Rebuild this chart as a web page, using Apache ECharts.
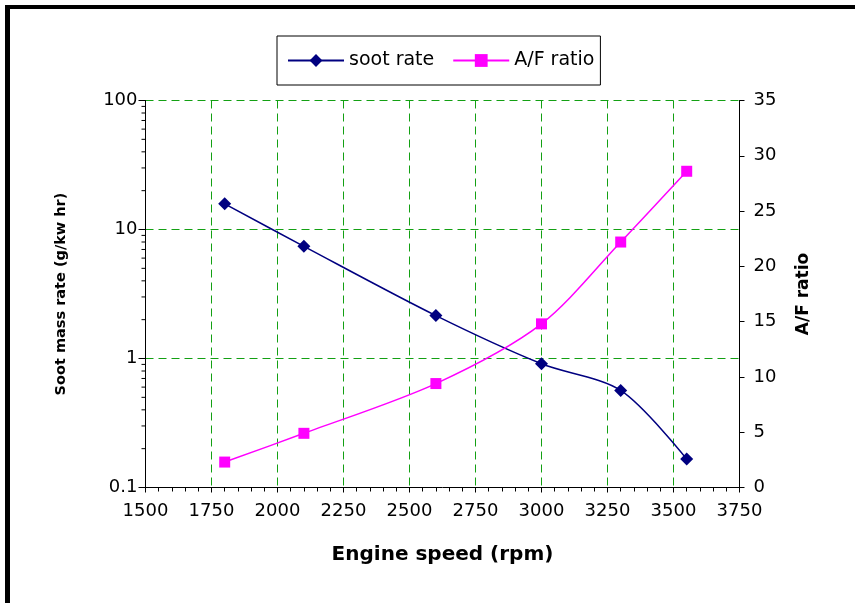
<!DOCTYPE html>
<html>
  <head>
    <meta charset="utf-8">
    <script src="https://cdn.jsdelivr.net/npm/echarts@6/dist/echarts.min.js"></script>
    <style>
      html, body { margin: 0; padding: 0; background: #fff; }
      #chart { width: 855px; height: 603px; }
      /* 原图左上角的粗黑边框 */
      #frame {
        position: absolute; left: 5px; top: 5px; width: 850px; height: 598px;
        border-left: 5px solid #000; border-top: 4px solid #000;
        box-sizing: border-box; pointer-events: none;
      }
    </style>
  </head>
  <body>
    <div id="chart"></div>
    <div id="frame"></div>
    <script>
      // 数据
      const speed = [1800, 2100, 2600, 3000, 3300, 3550];
      const sootRate = [15.8, 7.4, 2.15, 0.91, 0.565, 0.166];
      const afRatio = [2.3, 4.9, 9.4, 14.8, 22.2, 28.6];
      // 对数轴的次刻度 (2..9 每个十进位)
      const logMinor = [0.2, 0.3, 0.4, 0.5, 0.6, 0.7, 0.8, 0.9,
                        2, 3, 4, 5, 6, 7, 8, 9,
                        20, 30, 40, 50, 60, 70, 80, 90];

      const font = 'DejaVu Sans';
      const green = '#13a013';

      const chart = echarts.init(document.getElementById('chart'));
      chart.setOption({
        animation: false,
        textStyle: { fontFamily: font },
        grid: { left: 145.5, width: 594, top: 100.5, height: 387 },
        legend: {
          left: 277, top: 36,
          padding: [15, 6, 15, 10],
          borderColor: '#000', borderWidth: 1,
          itemWidth: 56, itemHeight: 16, itemGap: 18,
          textStyle: { fontFamily: font, fontSize: 19, color: '#000' },
          data: ['soot rate', 'A/F ratio']
        },
        xAxis: {
          type: 'value', min: 1500, max: 3750, interval: 250,
          name: 'Engine speed (rpm)', nameLocation: 'middle', nameGap: 57,
          nameTextStyle: { fontFamily: font, fontWeight: 'bold', fontSize: 20, color: '#000' },
          axisLine: { lineStyle: { color: '#000', width: 1 } },
          axisTick: { length: 5, lineStyle: { color: '#000' } },
          minorTick: { show: true, splitNumber: 5, length: 4, lineStyle: { color: '#000' } },
          axisLabel: { fontFamily: font, fontSize: 18, color: '#000', margin: 15, formatter: v => String(v) },
          splitLine: { show: true, lineStyle: { color: green, type: [8, 5], width: 1 } }
        },
        yAxis: [{
          type: 'log', logBase: 10, min: 0.1, max: 100,
          name: 'Soot mass rate (g/kw hr)', nameLocation: 'middle', nameGap: 77, nameRotate: 90,
          nameTextStyle: { fontFamily: font, fontWeight: 'bold', fontSize: 14.5, color: '#000' },
          axisLine: { show: true, lineStyle: { color: '#000', width: 1 } },
          axisTick: { show: true, length: 7, lineStyle: { color: '#000' } },
          axisLabel: { fontFamily: font, fontSize: 18, color: '#000', margin: 8 },
          splitLine: { show: true, lineStyle: { color: green, type: [8, 5], width: 1 } }
        }, {
          type: 'value', min: 0, max: 35, interval: 5, position: 'right',
          name: 'A/F ratio', nameLocation: 'middle', nameGap: 56, nameRotate: 90,
          nameTextStyle: { fontFamily: font, fontWeight: 'bold', fontSize: 17, color: '#000' },
          axisLine: { show: true, lineStyle: { color: '#000', width: 1 } },
          axisTick: { show: true, length: 5, lineStyle: { color: '#000' } },
          axisLabel: { fontFamily: font, fontSize: 18, color: '#000', margin: 14 },
          splitLine: { show: false }
        }],
        series: [{
          name: 'soot rate', type: 'line', yAxisIndex: 0,
          data: speed.map((s, i) => [s, sootRate[i]]),
          smooth: 0.3,
          symbol: 'diamond', symbolSize: [13, 13],
          itemStyle: { color: '#000080' },
          lineStyle: { color: '#000080', width: 1.5 }
        }, {
          name: 'A/F ratio', type: 'line', yAxisIndex: 1,
          data: speed.map((s, i) => [s, afRatio[i]]),
          smooth: 0.3,
          symbol: 'rect', symbolSize: 11,
          itemStyle: { color: '#ff00ff' },
          lineStyle: { color: '#ff00ff', width: 1.5 }
        }, {
          // 对数轴次刻度
          type: 'custom', yAxisIndex: 0, silent: true,
          data: logMinor.map(v => [1500, v]),
          renderItem: (params, api) => {
            const p = api.coord([api.value(0), api.value(1)]);
            return {
              type: 'line',
              shape: { x1: p[0] - 4, y1: p[1], x2: p[0], y2: p[1] },
              style: { stroke: '#000', lineWidth: 1 }
            };
          }
        }]
      });
    </script>
  </body>
</html>
